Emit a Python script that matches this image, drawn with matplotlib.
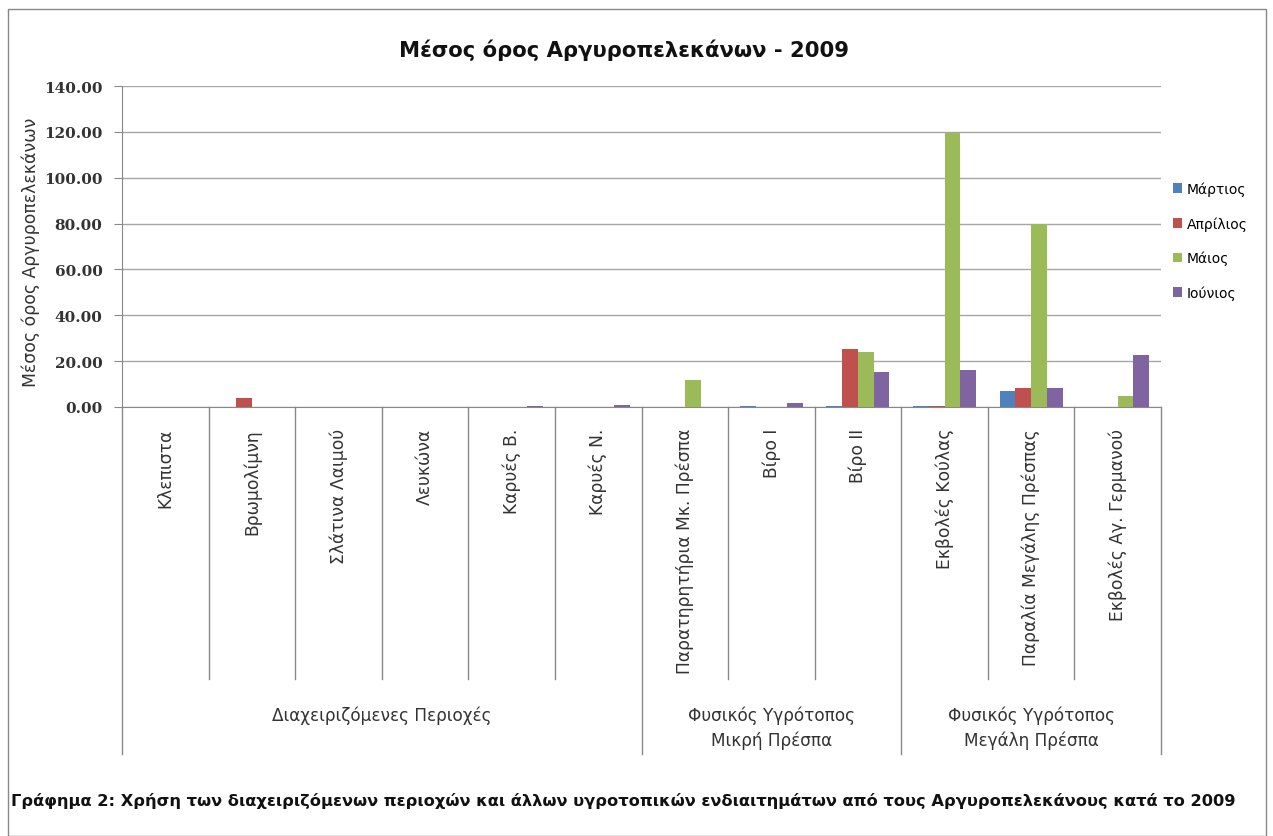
import numpy as np
import matplotlib.pyplot as plt
import matplotlib.transforms as mtransforms
from matplotlib.patches import Rectangle

# Περιοχές (κατηγορίες) και ομάδες
categories = ['Κλεπιστα', 'Βρωμολίμνη', 'Σλάτινα Λαιμού', 'Λευκώνα', 'Καρυές Β.',
              'Καρυές Ν.', 'Παρατηρητήρια Μκ. Πρέσπα', 'Βίρο Ι', 'Βίρο ΙΙ',
              'Εκβολές Κούλας', 'Παραλία Μεγάλης Πρέσπας', 'Εκβολές Αγ. Γερμανού']
groups = ['Διαχειριζόμενες Περιοχές', 'Φυσικός Υγρότοπος\nΜικρή Πρέσπα',
          'Φυσικός Υγρότοπος\nΜεγάλη Πρέσπα']
group_sizes = [6, 3, 3]

months = ['Μάρτιος', 'Απρίλιος', 'Μάιος', 'Ιούνιος']
martios = [0, 0.2, 0, 0, 0, 0, 0, 0.4, 0.4, 0.4, 6.8, 0]
aprilios = [0, 4.0, 0, 0, 0, 0, 0, 0, 25.5, 0.4, 8.1, 0]
maios = [0, 0, 0, 0, 0, 0, 11.6, 0, 23.8, 119.3, 80.0, 5.0]
iounios = [0, 0, 0, 0, 0.3, 0.8, 0, 1.8, 15.3, 16.2, 8.1, 22.5]
series = [martios, aprilios, maios, iounios]
colors = ['#4F81BD', '#C0504D', '#9BBB59', '#8064A2']

W, H = 1273, 837
FONT = 'DejaVu Sans'
fig = plt.figure(figsize=(W / 100, H / 100), dpi=100)
ax = fig.add_axes([122 / W, 1 - 408 / H, (1161 - 122) / W, (408 - 87) / H])
rend = fig.canvas.get_renderer()


def fit(txt, target, dim='w'):
    # ρύθμιση μεγέθους γραμματοσειράς ώστε το κείμενο να έχει το μήκος του πρωτοτύπου
    bb = txt.get_window_extent(rend)
    cur = bb.width if dim == 'w' else bb.height
    txt.set_fontsize(txt.get_fontsize() * target / cur)
    return txt.get_fontsize()


x = np.arange(len(categories))
bw = 1 / 5.5
for i, (vals, c, m) in enumerate(zip(series, colors, months)):
    ax.bar(x + (i - 1.5) * bw, vals, bw, color=c, label=m, zorder=3)

ax.set_xlim(-0.5, len(categories) - 0.5)
ax.set_ylim(0, 140)
ax.set_yticks(np.arange(0, 141, 20))
ax.set_yticklabels([f'{v:.2f}' for v in np.arange(0, 141, 20)],
                   fontfamily='DejaVu Serif', fontweight='bold', fontsize=11, color='#333333')
ax.yaxis.grid(True, color='#a6a6a6', linewidth=1, zorder=0)
ax.tick_params(axis='y', length=6, color='#888888', pad=8)
ax.tick_params(axis='x', length=0, pad=15)
for s in ['top', 'right']:
    ax.spines[s].set_visible(False)
ax.spines['left'].set_color('#888888')
ax.spines['bottom'].set_color('#888888')

ax.set_xticks(x)
ax.set_xticklabels(categories, rotation=90, va='top', ha='center',
                   fontfamily=FONT, fontsize=10, color='#333333')
fig.canvas.draw()
longest = ax.get_xticklabels()[6]
fs = fit(longest, 245, 'h')
for t in ax.get_xticklabels():
    t.set_fontsize(fs)

ylab = ax.set_ylabel('Μέσος όρος Αργυροπελεκάνων', fontfamily=FONT, fontsize=10.5,
                     color='#333333')
fit(ylab, 268, 'h')
ylab.set_horizontalalignment('center')
ylab.set_verticalalignment('center')
ax.yaxis.set_label_coords((31 - 122) / (1161 - 122), (408 - 252) / (408 - 87))

# πολυεπίπεδος άξονας κατηγοριών
trans = mtransforms.blended_transform_factory(ax.transData, ax.transAxes)
y_cat = -(680 - 408) / (408 - 87)
y_grp = -(755 - 408) / (408 - 87)
bounds = np.cumsum([0] + group_sizes) - 0.5
for b in np.arange(len(categories) + 1) - 0.5:
    bottom = y_grp if b in bounds else y_cat
    ax.plot([b, b], [0, bottom], transform=trans, color='#888888', lw=1, clip_on=False)
gtexts = []
for g, lo, hi in zip(groups, bounds[:-1], bounds[1:]):
    yy = -(716 - 408) / (408 - 87) if '\n' not in g else -(728 - 408) / (408 - 87)
    gtexts.append(ax.text((lo + hi) / 2, yy, g, transform=trans, ha='center', va='center',
                          fontfamily=FONT, fontsize=10, color='#333333', linespacing=1.45))
gfs = fit(gtexts[0], 220)
for t in gtexts:
    t.set_fontsize(gfs)

leg = ax.legend(loc='upper left', bbox_to_anchor=(1160 / W, 1 - 170 / H),
                bbox_transform=fig.transFigure, frameon=False, handlelength=0.7,
                handleheight=0.7, handletextpad=0.35, labelspacing=1.45,
                prop={'family': FONT, 'size': 10})

title = fig.text(624 / W, 1 - 50 / H, 'Μέσος όρος Αργυροπελεκάνων - 2009', ha='center',
                 va='center', fontfamily=FONT, fontweight='bold', fontsize=15, color='#111111')
fit(title, 452)

cap = fig.text(11 / W, 1 - 801 / H,
               'Γράφημα 2: Χρήση των διαχειριζόμενων περιοχών και άλλων υγροτοπικών '
               'ενδιαιτημάτων από τους Αργυροπελεκάνους κατά το 2009',
               ha='left', va='center', fontfamily=FONT, fontweight='bold',
               fontsize=10.5, color='#111111')
fit(cap, 1230)

fig.patches.append(Rectangle((8 / W, 0), (1266 - 8) / W, 1 - 10 / H, transform=fig.transFigure,
                             fill=False, edgecolor='#888888', lw=1))

fig.savefig('out.png', dpi=100)
